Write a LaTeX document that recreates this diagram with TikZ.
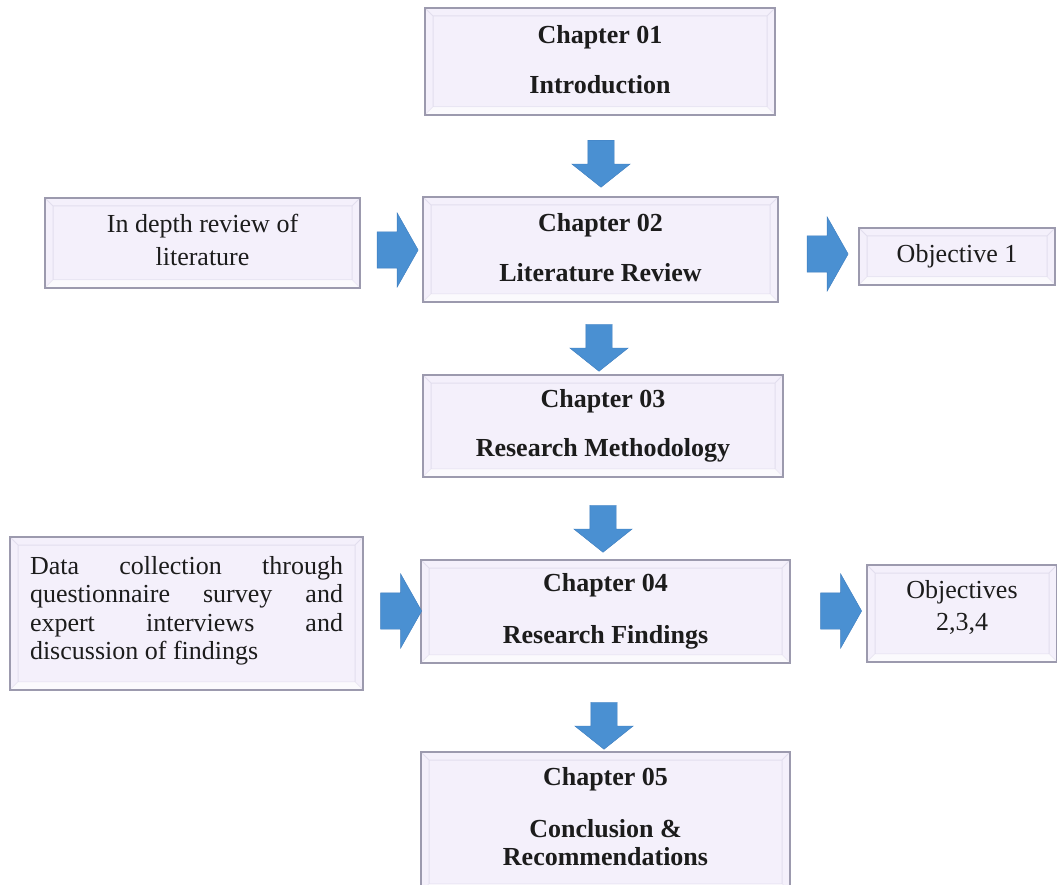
\documentclass[tikz,border=0pt]{standalone}
\usepackage{fontspec}
\setmainfont{Liberation Serif}
\usetikzlibrary{shapes.arrows}

\definecolor{boxfill}{RGB}{244,240,251}
\definecolor{boxedge}{RGB}{156,154,174}
\definecolor{boxinner}{RGB}{226,222,238}
\definecolor{arrowblue}{RGB}{74,144,210}
\definecolor{arrowedge}{RGB}{60,124,190}
\definecolor{ink}{RGB}{28,28,28}

% one justified line of the given width
\newcommand{\jline}[1]{\makebox[313pt][s]{#1}}

\tikzset{
  bevelbox/.style={rectangle, draw=boxedge, line width=1.3pt, fill=boxfill,
    inner sep=0pt, text=ink, align=center,
    font=\fontsize{26}{28}\selectfont,
    path picture={
      \draw[boxinner, line width=1pt]
        ([shift={(8pt,-8pt)}]path picture bounding box.north west) rectangle
        ([shift={(-8pt,8pt)}]path picture bounding box.south east)
        (path picture bounding box.north west) -- ++(8pt,-8pt)
        (path picture bounding box.north east) -- ++(-8pt,-8pt)
        (path picture bounding box.south west) -- ++(8pt,8pt)
        (path picture bounding box.south east) -- ++(-8pt,8pt);
      \fill[white, opacity=0.7]
        (path picture bounding box.south west) -- ++(8pt,8pt)
        -- ([shift={(-8pt,8pt)}]path picture bounding box.south east)
        -- (path picture bounding box.south east) -- cycle;
    }},
  chapterbox/.style={bevelbox, font=\bfseries\fontsize{26}{28}\selectfont},
  downarrow/.style={single arrow, rotate=-90, fill=arrowblue, draw=arrowedge,
    line width=0.4pt, inner xsep=0pt, inner ysep=13pt,
    single arrow head extend=16pt, single arrow tip angle=103,
    minimum height=47pt, minimum width=0pt},
  rightarrow/.style={single arrow, fill=arrowblue, draw=arrowedge,
    line width=0.4pt, inner xsep=0pt, inner ysep=18pt,
    single arrow head extend=19pt, single arrow tip angle=121,
    minimum height=41pt, minimum width=0pt},
}

\begin{document}
\begin{tikzpicture}[x=1pt,y=-1pt]
  \useasboundingbox (0,0) rectangle (1057,885);
  \clip (0,0) rectangle (1057,885);

  % chapter column
  \node[chapterbox, minimum width=350pt, minimum height=107pt] (ch1) at (600,61.5)
    {Chapter 01\\[22pt]Introduction\rule[-5pt]{0pt}{5pt}};
  \node[chapterbox, minimum width=355pt, minimum height=105pt] (ch2) at (600.5,249.5)
    {Chapter 02\\[22pt]Literature Review\rule[-5pt]{0pt}{5pt}};
  \node[chapterbox, minimum width=360pt, minimum height=102pt] (ch3) at (603,426)
    {Chapter 03\\[21pt]Research Methodology};
  \node[chapterbox, minimum width=369pt, minimum height=103pt] (ch4) at (605.5,611.5)
    {Chapter 04\\[24pt]Research Findings};
  \node[chapterbox, minimum width=369pt, minimum height=140pt] (ch5) at (605.5,822)
    {Chapter 05\\[24pt]Conclusion \&\\Recommendations\rule[-12pt]{0pt}{12pt}};

  % side boxes
  \node[bevelbox, minimum width=315pt, minimum height=90pt] (lit) at (202.5,243)
    {In depth review of\\[5pt]literature\rule[-7pt]{0pt}{7pt}};
  \node[bevelbox, minimum width=196pt, minimum height=57pt] (obj1) at (957,256.5)
    {Objective 1};
  \node[bevelbox, minimum width=353pt, minimum height=153pt, align=left,
        font=\fontsize{26}{28.3}\selectfont] (data) at (186.5,613.5)
    {\jline{Data collection through}\\
     \jline{questionnaire survey and}\\
     \jline{expert interviews and}\\
     discussion of findings\rule[-11pt]{0pt}{11pt}};
  \node[bevelbox, minimum width=190pt, minimum height=97pt] (obj2) at (962,613.5)
    {Objectives\\[4pt]2,3,4\rule[-17pt]{0pt}{17pt}};

  % block arrows between the boxes
  \node[downarrow] (a12) at (601,158.5) {};
  \node[downarrow] (a23) at (599,342.5) {};
  \node[downarrow] (a34) at (603,523.5) {};
  \node[downarrow] (a45) at (604,720.5) {};
  \node[rightarrow] (alit) at (392.5,250) {};
  \node[rightarrow] (aobj1) at (822.5,254) {};
  \node[rightarrow] (adata) at (396,611) {};
  \node[rightarrow] (aobj2) at (836,611) {};
\end{tikzpicture}
\end{document}
